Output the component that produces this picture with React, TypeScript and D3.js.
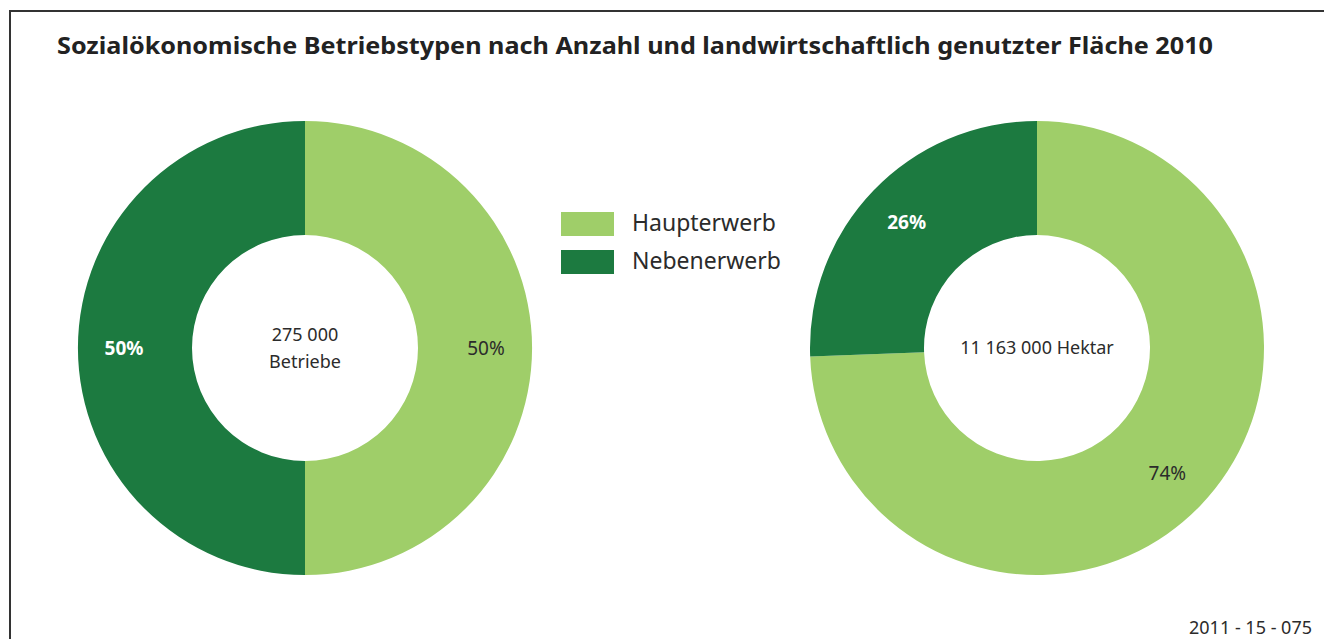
import React, { useEffect, useRef } from 'react';
import * as d3 from 'd3';

// data
const categories = ['Haupterwerb', 'Nebenerwerb'];
const betriebeShares = [50, 50];
const flaecheShares = [74.4, 25.6];
const centerTexts = [['275 000', 'Betriebe'], ['11 163 000 Hektar']];
const title = 'Sozialökonomische Betriebstypen nach Anzahl und landwirtschaftlich genutzter Fläche 2010';
const footnote = '2011 - 15 - 075';

const colors = ['#9fce69', '#1c7a40'];
const labelColors = ['#2b2b2b', '#ffffff'];
const labelWeights = ['normal', 'bold'];

export default function App() {
  const ref = useRef<SVGSVGElement>(null);

  useEffect(() => {
    const width = 1324;
    const height = 639;
    const font = '"Noto Sans", "Open Sans", sans-serif';
    const svg = d3.select(ref.current);
    svg.selectAll('*').remove();

    // frame (top and left line)
    svg.append('line').attr('x1', 10).attr('x2', width).attr('y1', 11).attr('y2', 11)
      .attr('stroke', '#333').attr('stroke-width', 2);
    svg.append('line').attr('x1', 10).attr('x2', 10).attr('y1', 10).attr('y2', height)
      .attr('stroke', '#333').attr('stroke-width', 2);

    svg.append('text')
      .attr('x', 57).attr('y', 54)
      .style('font-family', font).style('font-weight', 'bold').style('font-size', '23px')
      .attr('fill', '#222')
      .attr('textLength', 1156).attr('lengthAdjust', 'spacingAndGlyphs')
      .text(title);

    const outerR = 227;
    const innerR = 113;
    const labelR = 181;

    const pie = d3.pie<number>().sort(null).value(d => d);
    const arc = d3.arc<d3.PieArcDatum<number>>().innerRadius(innerR).outerRadius(outerR);
    const labelArc = d3.arc<d3.PieArcDatum<number>>().innerRadius(labelR).outerRadius(labelR);

    const donuts = [
      { cx: 305, cy: 348, values: betriebeShares, center: centerTexts[0] },
      { cx: 1037, cy: 348, values: flaecheShares, center: centerTexts[1] },
    ];

    donuts.forEach(dn => {
      const g = svg.append('g').attr('transform', `translate(${dn.cx},${dn.cy})`);
      const arcs = pie(dn.values);
      g.selectAll('path.slice')
        .data(arcs)
        .enter()
        .append('path')
        .attr('class', 'slice')
        .attr('d', arc)
        .attr('fill', (d, i) => colors[i]);

      g.selectAll('text.lbl')
        .data(arcs)
        .enter()
        .append('text')
        .attr('class', 'lbl')
        .attr('transform', d => `translate(${labelArc.centroid(d)})`)
        .attr('text-anchor', 'middle')
        .attr('dy', '0.35em')
        .style('font-family', font)
        .style('font-size', '19px')
        .style('font-weight', (d, i) => labelWeights[i])
        .attr('fill', (d, i) => labelColors[i])
        .text(d => Math.round(d.data) + '%');

      const lineH = 27;
      const n = dn.center.length;
      g.selectAll('text.center')
        .data(dn.center)
        .enter()
        .append('text')
        .attr('class', 'center')
        .attr('text-anchor', 'middle')
        .attr('y', (d, i) => (i - (n - 1) / 2) * lineH)
        .attr('dy', '0.35em')
        .style('font-family', font)
        .style('font-size', '18px')
        .attr('fill', '#2b2b2b')
        .text(d => d);
    });

    // legend
    const legend = svg.append('g').attr('transform', 'translate(561,212)');
    const item = legend.selectAll('g')
      .data(categories)
      .enter()
      .append('g')
      .attr('transform', (d, i) => `translate(0,${i * 38})`);
    item.append('rect').attr('width', 53).attr('height', 24).attr('fill', (d, i) => colors[i]);
    item.append('text')
      .attr('x', 71).attr('y', 11).attr('dy', '0.35em')
      .style('font-family', font).style('font-size', '23px')
      .attr('fill', '#2b2b2b')
      .text(d => d);

    svg.append('text')
      .attr('x', 1312).attr('y', 634)
      .attr('text-anchor', 'end')
      .style('font-family', font).style('font-size', '18px')
      .attr('fill', '#2b2b2b')
      .text(footnote);
  }, []);

  return (
    <svg ref={ref} width={1324} height={639}
      style={{ position: 'absolute', left: 0, top: 0, background: '#fff' }} />
  );
}
